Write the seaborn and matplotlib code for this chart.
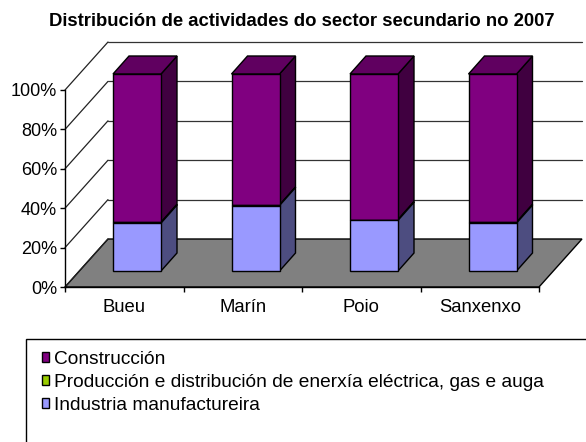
import matplotlib
matplotlib.use("Agg")
import matplotlib.pyplot as plt
from matplotlib.patches import Polygon, Rectangle, Patch
import pandas as pd
import seaborn as sns

# Datos (porcentaxes)
municipios = ["Bueu", "Marín", "Poio", "Sanxenxo"]
industria = [24.3, 33.2, 25.7, 24.3]
enerxia = [0.4, 0.3, 0.4, 0.4]
construcion = [round(100 - a - b, 1) for a, b in zip(industria, enerxia)]
series = ["Industria manufactureira",
          "Producción e distribución de enerxía eléctrica, gas e auga",
          "Construcción"]
yticks = [0, 20, 40, 60, 80, 100]
ytick_labels = [f"{v}%" for v in yticks]
titulo = "Distribución de actividades do sector secundario no 2007"

# cores: fronte, lateral, tapa
cores = {
    series[0]: ("#9999FF", "#4D4D80", "#7A7ACC"),
    series[1]: ("#99CC00", "#4D6600", "#7AA300"),
    series[2]: ("#800080", "#400040", "#600060"),
}

df = pd.DataFrame({
    "municipio": municipios * 3,
    "serie": [s for s in series for _ in municipios],
    "valor": industria + enerxia + construcion,
})
df["acum"] = df.groupby("municipio")["valor"].cumsum()
df["base"] = df["acum"] - df["valor"]

sns.set_style("white")
plt.rcParams["font.family"] = ["Liberation Sans", "DejaVu Sans"]
plt.rcParams.update({"text.color": "black", "xtick.color": "black",
                     "ytick.color": "black", "axes.labelcolor": "black"})

W, H = 586, 442
fig = plt.figure(figsize=(W / 100, H / 100), dpi=100)
ax = fig.add_axes([0, 0, 1, 1])

# escala en pixeles do plano frontal
px_cat = 118.5
px_pct = 1.97
x0_px, y0_px = 65, 287

# profundidade das paredes e das barras
WDX, WDY = 43 / px_cat, 48 / px_pct
OFF_X, OFF_Y = 12.75 / px_cat, 16 / px_pct
BDX, BDY = 16 / px_cat, 18 / px_pct
BAR_W = 48 / px_cat
x_ini, x_fin = -0.5, len(municipios) - 0.5

# chan
ax.add_patch(Polygon([(x_ini, 0), (x_fin, 0), (x_fin + WDX, WDY), (x_ini + WDX, WDY)],
                     closed=True, facecolor="#808080", edgecolor="black", lw=1, zorder=1))
# grella: diagonais na parede lateral e horizontais na parede de fondo
for v in yticks:
    ax.plot([x_ini, x_ini + WDX], [v, v + WDY], color="#222222", lw=0.9, zorder=1.2)
    if v > 0:
        ax.plot([x_ini + WDX, x_fin + WDX], [v + WDY, v + WDY],
                color="#333333", lw=0.9, zorder=1.2)

# barras frontais con seaborn (apiladas, de arriba a abaixo)
for s in reversed(series):
    sub = df[df["serie"] == s]
    n0 = len(ax.patches)
    sns.barplot(data=sub, x="municipio", y="acum", order=municipios, color=cores[s][0],
                saturation=1, width=BAR_W, errorbar=None, edgecolor="black",
                linewidth=1, ax=ax, zorder=3)
    for p, (_, fila) in zip(ax.patches[n0:], sub.iterrows()):
        p.set_x(p.get_x() + OFF_X)
        p.set_y(OFF_Y + fila["base"])
        p.set_height(fila["valor"])
        p.set_zorder(3)
        xl, xr = p.get_x(), p.get_x() + p.get_width()
        yb, yt = OFF_Y + fila["base"], OFF_Y + fila["acum"]
        ax.add_patch(Polygon([(xr, yb), (xr + BDX, yb + BDY), (xr + BDX, yt + BDY), (xr, yt)],
                             closed=True, facecolor=cores[s][1], edgecolor="black",
                             lw=1, zorder=2.8))
        if s == series[-1]:
            ax.add_patch(Polygon([(xl, yt), (xr, yt), (xr + BDX, yt + BDY), (xl + BDX, yt + BDY)],
                                 closed=True, facecolor=cores[s][2], edgecolor="black",
                                 lw=1, zorder=2.9))

ax.set_xlim(-0.5 - x0_px / px_cat, (W - x0_px) / px_cat - 0.5)
ax.set_ylim(-(H - y0_px) / px_pct, y0_px / px_pct)

# eixos
for lado in ["top", "right"]:
    ax.spines[lado].set_visible(False)
ax.spines["left"].set_position(("data", x_ini))
ax.spines["left"].set_bounds(0, 100)
ax.spines["bottom"].set_position(("data", 0))
ax.spines["bottom"].set_bounds(x_ini, x_fin)
for lado in ["left", "bottom"]:
    ax.spines[lado].set_color("black")
    ax.spines[lado].set_linewidth(1)
    ax.spines[lado].set_zorder(4)

ax.set_yticks(yticks)
ax.set_yticklabels(ytick_labels)
ax.set_xticks(range(len(municipios)))
ax.set_xticklabels(municipios)
ax.set_xticks([i - 0.5 for i in range(len(municipios) + 1)], minor=True)
ax.tick_params(axis="y", direction="out", length=3.6, width=1, color="black",
               labelcolor="black", labelsize=13, pad=2, left=True)
ax.tick_params(axis="x", which="major", length=0, labelsize=13.3, pad=9,
               labelcolor="black")
ax.tick_params(axis="x", which="minor", direction="out", length=3.6, width=1,
               color="black", bottom=True)
ax.set_xlabel("")
ax.set_ylabel("")
ax.set_facecolor("white")

fig.text(302 / W, 1 - 26 / H, titulo, ha="center", va="baseline",
         fontsize=13.3, fontweight="bold", color="black")

# lenda
fig.add_artist(Rectangle((26 / W, -0.05), 1.0, 0.05 + (H - 339) / H,
                         transform=fig.transFigure, fill=False,
                         edgecolor="black", lw=1))
handles = [Patch(facecolor=cores[s][0], edgecolor="black", lw=1) for s in reversed(series)]
fig.legend(handles, list(reversed(series)), loc="upper left",
           bbox_to_anchor=(42 / W, 1 - 351 / H), frameon=False, fontsize=13.8,
           handlelength=0.37, handleheight=0.42, handletextpad=0.25, labelspacing=0.3,
           borderaxespad=0, borderpad=0, labelcolor="black")

fig.savefig("out.png", dpi=100)
